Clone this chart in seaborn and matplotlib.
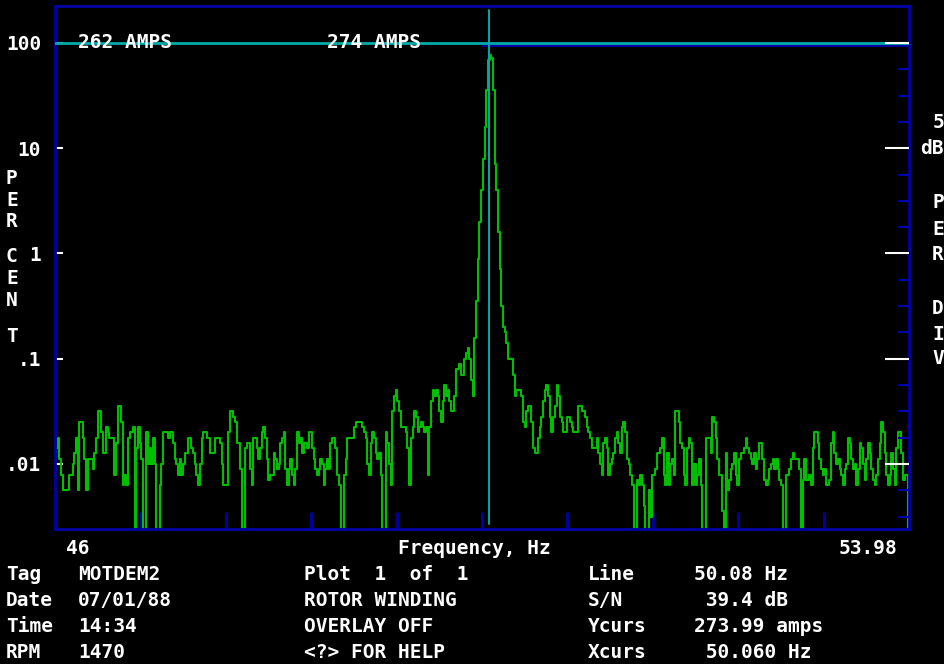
import numpy as np
import pandas as pd
import matplotlib
matplotlib.use("Agg")
import matplotlib.pyplot as plt
import seaborn as sns
from matplotlib.ticker import FixedLocator, NullFormatter, FixedFormatter

# Spectrum levels, dB relative to full scale (100 %), in five consecutive bands
band_46_47 = [
    -78, -77, -75, -79, -82, -85, -85, -85, -85, -82, -82, -80, -78, -75, -85, -72,
    -72, -75, -79, -85, -79, -79, -79, -81, -78, -75, -70, -70, -74, -78, -78, -73,
    -74, -75, -75, -75, -82, -76, -69, -69, -72, -84, -82, -84, -75, -74, -74, -73,
    -100, -77, -73, -76, -79, -100, -100, -74, -80, -77, -80, -75, -80, -100, -100, -84,
    -80, -74, -74, -74, -75, -74, -74, -76, -79, -80, -82, -79, -82, -80, -78, -78,
    -75, -75, -77, -78, -80, -82, -84, -80, -75, -74, -74, -75, -75, -78, -78, -78,
    -75, -75, -75, -76, -80, -84, -84, -84, -74, -70, -70, -71, -72, -76, -76, -81,
    -100, -100, -77, -76, -76, -81, -84, -75, -75, -77, -79, -77, -74, -73, -75, -79,
    -83,
]
band_48_49 = [
    -82, -82, -78, -79, -81, -80, -76, -75, -74, -81, -84, -81, -79, -82, -84, -81,
    -74, -76, -75, -78, -76, -76, -77, -74, -74, -77, -79, -81, -82, -81, -79, -80,
    -84, -81, -79, -81, -76, -75, -75, -77, -82, -84, -100, -100, -82, -79, -75, -75,
    -75, -75, -73, -72, -72, -72, -72, -73, -74, -75, -80, -82, -76, -74, -75, -78,
    -79, -78, -82, -100, -100, -74, -76, -80, -84, -70, -67, -66, -68, -70, -73, -73,
    -73, -74, -77, -84, -75, -73, -70, -71, -74, -73, -72, -73, -74, -73, -82, -73,
    -68, -66, -67, -66, -67, -70, -72, -68, -65, -67, -66, -68, -70, -70, -67, -62,
    -62, -61, -63, -63, -60, -59, -58, -60, -64, -67,
]
band_line_peak = [
    -56, -49, -41, -34, -28, -22, -16, -9, -3.2, -2.3, -2.9, -9, -23, -28, -36, -43,
    -50, -54,
]
band_50_52 = [
    -55, -57, -60, -60, -60, -63, -67, -66, -66, -66, -67, -72, -73, -70, -69, -69,
    -72, -77, -78, -78, -75, -73, -71, -68, -66, -65, -67, -71, -74, -71, -69, -65,
    -67, -71, -72, -74, -74, -71, -71, -72, -73, -74, -74, -74, -69, -69, -70, -70,
    -71, -73, -74, -75, -77, -77, -77, -75, -78, -80, -82, -76, -75, -77, -82, -80,
    -79, -78, -75, -74, -76, -78, -73, -72, -74, -79, -80, -82, -84, -100, -100, -83,
    -84, -82, -84, -88, -100, -100, -85, -90, -82, -82, -81, -78, -78, -77, -75, -82,
    -84, -78, -84, -80, -79, -82, -70, -70, -72, -76, -77, -82, -84, -77, -75, -76,
    -84, -80, -84, -82, -79,
]
band_52_54 = [
    -84, -100, -100, -75, -75, -75, -78, -71, -72, -75, -79, -82, -82, -89, -100, -78,
    -85, -83, -81, -80, -78, -82, -84, -79, -78, -78, -77, -75, -77, -78, -79, -80,
    -78, -81, -79, -76, -76, -79, -83, -84, -83, -81, -80, -79, -81, -79, -81, -83,
    -84, -100, -100, -82, -82, -81, -79, -78, -79, -79, -79, -81, -100, -83, -79, -83,
    -83, -82, -84, -77, -74, -74, -76, -79, -81, -82, -81, -84, -84, -83, -76, -74,
    -78, -80, -79, -81, -82, -84, -81, -80, -75, -76, -79, -81, -80, -84, -81, -76,
    -77, -80, -83, -79, -76, -78, -81, -83, -84, -82, -79, -76, -72, -74, -78, -82,
    -84, -82, -78, -81, -84, -77, -74, -74, -78, -83, -82, -82, -100,
]

f_start, f_stop = 46.0, 53.98
cursor_hz = 50.060
ref_pct = 100.0
y_ticks = [100, 10, 1, 0.1, 0.01]
y_tick_labels = ["100", "10", "1", ".1", ".01"]

levels_db = np.array(band_46_47 + band_48_49 + band_line_peak + band_50_52 + band_52_54, dtype=float)
freq = np.linspace(f_start, f_stop, len(levels_db))
spectrum = pd.DataFrame({"Frequency, Hz": freq, "Percent": ref_pct * 10 ** (levels_db / 20)})

BLUE = "#0000AA"
CYAN = "#00AAAA"
GREEN = "#00BE00"
WHITE = "#FFFFFF"

sns.set_style("dark", {"axes.facecolor": "black", "figure.facecolor": "black"})
plt.rcParams["font.family"] = ["DejaVu Sans Mono", "DejaVu Sans"]

W, H = 945, 664
fig = plt.figure(figsize=(W / 100, H / 100), dpi=100)
fig.patch.set_facecolor("black")
x0, x1, y0, y1 = 55, 909, 6, 529
ax = fig.add_axes([x0 / W, 1 - y1 / H, (x1 - x0) / W, (y1 - y0) / H])
ax.set_facecolor("black")

sns.lineplot(data=spectrum, x="Frequency, Hz", y="Percent", ax=ax, color=GREEN,
             linewidth=1.5, estimator=None, sort=False, drawstyle="steps-mid", zorder=2)

ax.set_yscale("log")
ax.set_xlim(f_start, f_stop)
ax.set_ylim(10 ** (-2.6176), 10 ** 2.3515)
ax.set_xlabel("")
ax.set_ylabel("")
ax.grid(False)

for side in ("left", "right", "top", "bottom"):
    ax.spines[side].set_color(BLUE)
    ax.spines[side].set_linewidth(2)
    ax.spines[side].set_visible(True)

# left decade ticks with labels
ax.yaxis.set_major_locator(FixedLocator(y_ticks))
ax.yaxis.set_major_formatter(FixedFormatter(y_tick_labels))
ax.yaxis.set_minor_locator(FixedLocator([]))
ax.tick_params(axis="y", which="major", direction="in", length=6, width=1.5,
               color=WHITE, labelcolor=WHITE, labelsize=14, pad=10, left=True, right=False)
for lbl in ax.get_yticklabels():
    lbl.set_fontweight("bold")

# bottom division ticks
div = (f_stop - f_start) / 10
ax.xaxis.set_major_locator(FixedLocator([f_start + k * div for k in range(1, 10)]))
ax.xaxis.set_major_formatter(NullFormatter())
ax.xaxis.set_minor_locator(FixedLocator([]))
ax.tick_params(axis="x", which="major", direction="in", length=12, width=2,
               color=BLUE, bottom=True, top=False)

# right 5 dB/div scale
ax2 = ax.twinx()
ax2.set_yscale("log")
ax2.set_ylim(ax.get_ylim())
ax2.set_position(ax.get_position())
for side in ("left", "right", "top", "bottom"):
    ax2.spines[side].set_visible(False)
ax2.grid(False)
quarter = [100 * 10 ** (-k / 4) for k in range(0, 19) if k % 4 != 0]
ax2.yaxis.set_major_locator(FixedLocator(y_ticks))
ax2.yaxis.set_minor_locator(FixedLocator(quarter))
ax2.yaxis.set_major_formatter(NullFormatter())
ax2.yaxis.set_minor_formatter(NullFormatter())
ax2.tick_params(axis="y", which="major", direction="in", length=17, width=1.5, color=WHITE,
                right=True, left=False)
ax2.tick_params(axis="y", which="minor", direction="in", length=8, width=1.5, color=BLUE,
                right=True, left=False)

# reference level and cursor
ax.plot([49.99, f_stop], [95.0, 95.0], color=BLUE, linewidth=2, zorder=3)
ax.axhline(ref_pct, color=CYAN, linewidth=2, zorder=4)
ax.axvline(cursor_hz, ymin=0.0096, ymax=0.992, color=CYAN, linewidth=1.4, zorder=4)

txt = dict(color=WHITE, fontsize=14, fontweight="bold", va="center", ha="left",
           family=["DejaVu Sans Mono"])


def put(px, py, s, **kw):
    opts = dict(txt)
    opts.update(kw)
    fig.text(px / W, 1 - py / H, s, zorder=10, **opts)


put(78, 43, "262 AMPS")
put(327, 43, "274 AMPS")

for letter, py in zip("PERCENT", [178, 200, 222, 256, 279, 301, 336]):
    put(6, py, letter)
for s, py in zip(["5", "dB", "P", "E", "R", "D", "I", "V"],
                 [123, 149, 203, 229, 255, 309, 335, 359]):
    put(944, py, s, ha="right")

put(66, 548, "46")
put(398, 548, "Frequency, Hz")
put(897, 548, "53.98", ha="right")

rows = [574, 601, 627, 653]
col1 = ["Tag", "Date", "Time", "RPM"]
col2 = ["MOTDEM2", "07/01/88", "14:34", "1470"]
col3 = ["Plot  1  of  1", "ROTOR WINDING", "OVERLAY OFF", "<?> FOR HELP"]
col4 = ["Line", "S/N", "Ycurs", "Xcurs"]
col5 = ["50.08 Hz", " 39.4 dB", "273.99 amps", " 50.060 Hz"]
for py, a, b, c, d, e in zip(rows, col1, col2, col3, col4, col5):
    put(6, py, a)
    put(78, py, b)
    put(304, py, c)
    put(588, py, d)
    put(694, py, e)

fig.savefig("out.png", dpi=100, facecolor="black")
